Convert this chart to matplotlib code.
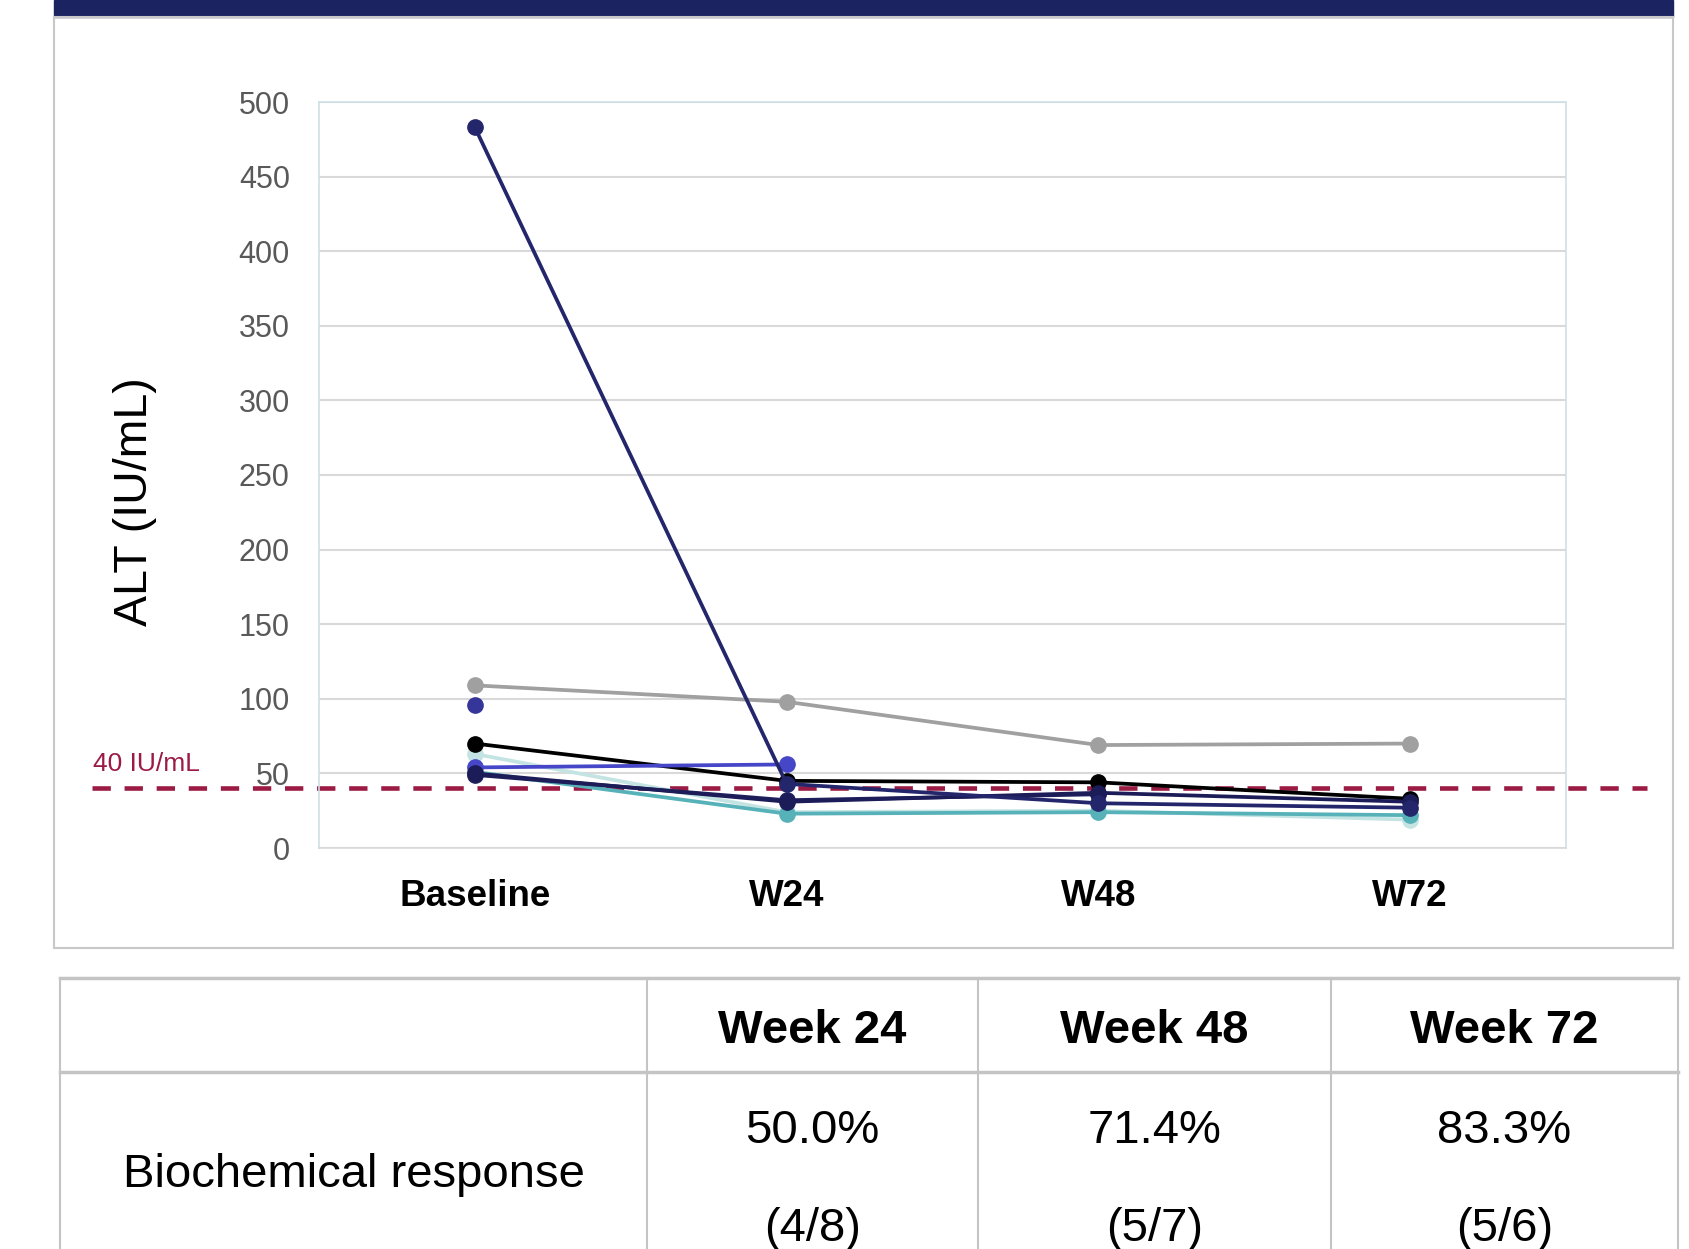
import numpy as np
import matplotlib.pyplot as plt
from matplotlib.patches import Rectangle
from matplotlib.lines import Line2D
from matplotlib.transforms import blended_transform_factory

plt.rcParams['font.family'] = ['Liberation Sans', 'DejaVu Sans']

# ALT values per patient (IU/mL); nan = no visit
visits = ['Baseline', 'W24', 'W48', 'W72']
alt_gray = [109, 98, 69, 70]
alt_navy_high = [483, 43, 30, 27]
alt_black = [70, 45, 44, 33]
alt_blue = [54, 56, np.nan, np.nan]
alt_navy_b = [50, 31, 37, 31]
alt_navy_c = [49, 32, 36, np.nan]
alt_light_teal = [63, 24, 25, 19]
alt_teal = [51, 23, 24, 22]
alt_baseline_only = [96, np.nan, np.nan, np.nan]
uln = 40

# response table
weeks = ['Week 24', 'Week 48', 'Week 72']
responders = [4, 5, 5]
evaluable = [8, 7, 6]

W, H = 1690, 1249
fig = plt.figure(figsize=(W / 100, H / 100), dpi=100)


def fx(x):
    return x / W


def fy(y):
    return 1 - y / H


# header bar and chart frame
fig.patches.append(Rectangle((fx(54), fy(17)), fx(1673) - fx(54), fy(0) - fy(17),
                             transform=fig.transFigure, color='#1b2461', zorder=0))
fig.patches.append(Rectangle((fx(54), fy(948)), fx(1673) - fx(54), fy(17) - fy(948),
                             transform=fig.transFigure, fill=False,
                             edgecolor='#c8c8c8', lw=1.5, zorder=0))

ax = fig.add_axes([fx(319), fy(848), fx(1566) - fx(319), fy(102) - fy(848)])
x = np.arange(len(visits)) + 0.5

series = [
    (alt_light_teal, '#c4e4e4'),
    (alt_gray, '#a0a0a0'),
    (alt_baseline_only, '#35359a'),
    (alt_teal, '#56b2b8'),
    (alt_black, '#000000'),
    (alt_blue, '#4646c8'),
    (alt_navy_c, '#20205e'),
    (alt_navy_b, '#1c1c58'),
    (alt_navy_high, '#24266b'),
]
for vals, col in series:
    ax.plot(x, vals, '-o', color=col, lw=2.7, ms=11, zorder=3)

# upper limit of normal, drawn across the whole panel
tr = blended_transform_factory(ax.transAxes, ax.transData)
ln = Line2D([(92 - 319) / 1247, (1647 - 319) / 1247], [uln, uln], transform=tr,
            color='#9b1b45', lw=3.3, clip_on=False, zorder=2.5)
ln.set_dashes((4.0, 3.0))
ax.add_line(ln)
fig.text(fx(146), fy(764), f'{uln} IU/mL', color='#9b1b45', fontsize=19,
         ha='center', va='center')

ax.set_xlim(0, len(visits))
ax.set_ylim(0, 500)
ax.set_yticks(np.arange(0, 501, 50))
ax.set_xticks(x)
ax.set_xticklabels(visits, fontsize=26.5, fontweight='bold')
ax.tick_params(axis='y', length=0, pad=21, labelsize=22, labelcolor='#595959')
ax.tick_params(axis='x', length=0, pad=22)
ax.grid(axis='y', color='#d9d9d9', lw=1.5, zorder=0)
ax.set_axisbelow(True)
for s in ax.spines.values():
    s.set_color('#cfe0e6')
    s.set_linewidth(1.2)
ax.spines['bottom'].set_color('#d9d9d9')

fig.text(fx(135), fy(502), 'ALT (IU/mL)', rotation=90, fontsize=33.5,
         ha='center', va='center')

# response table
cols = [60, 647, 978, 1331, 1678]
grid_c = '#c4c4c4'
fig.add_artist(Line2D([fx(60), fx(1678)], [fy(978), fy(978)], color=grid_c, lw=2.5))
fig.add_artist(Line2D([fx(60), fx(1678)], [fy(1072), fy(1072)], color=grid_c, lw=2.5))
for c in cols:
    fig.add_artist(Line2D([fx(c), fx(c)], [fy(978), fy(1249)], color=grid_c, lw=1.5))

fig.text(fx((cols[0] + cols[1]) / 2), fy(1175), 'Biochemical response',
         fontsize=34, ha='center', va='center')
for i, wk in enumerate(weeks):
    cx = fx((cols[i + 1] + cols[i + 2]) / 2)
    fig.text(cx, fy(1031), wk, fontsize=34, fontweight='bold', ha='center', va='center')
    pct = 100 * responders[i] / evaluable[i]
    fig.text(cx, fy(1131), f'{pct:.1f}%', fontsize=34, ha='center', va='center')
    fig.text(cx, fy(1229), f'({responders[i]}/{evaluable[i]})', fontsize=34,
             ha='center', va='center')

fig.savefig('out.png', dpi=100)
